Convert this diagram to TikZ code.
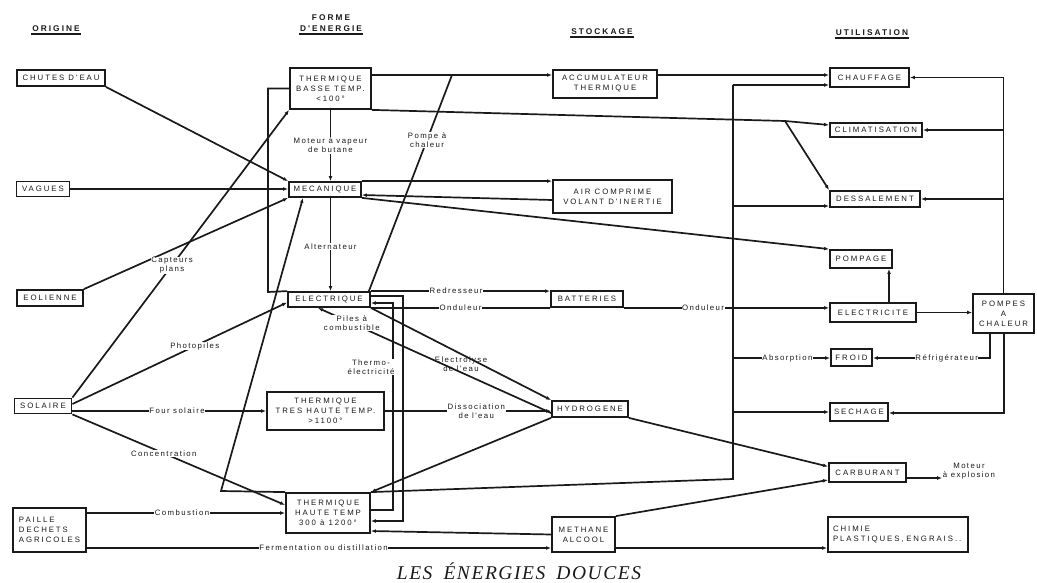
\documentclass[tikz,border=0pt]{standalone}
\usepackage{fontspec}
\setmainfont{Liberation Sans}
\newfontfamily\boxf[LetterSpace=25]{Liberation Sans}
\newfontfamily\headf[LetterSpace=25]{Liberation Sans}
\newfontfamily\lblf[LetterSpace=18]{Liberation Sans}
\newfontfamily\titlef[LetterSpace=8]{Liberation Serif}
\usetikzlibrary{arrows.meta,calc}
\definecolor{ink}{HTML}{1A1A1A}
\begin{document}
\begin{tikzpicture}[x=1pt,y=-1pt,
  box/.style={draw=ink, fill=white, line width=1.8pt, inner sep=1pt, align=center, text=ink, font=\boxf\fontsize{7.8}{10}\selectfont},
  head/.style={font=\headf\bfseries\fontsize{8.3}{11}\selectfont, align=center, inner sep=1pt, text=ink},
  lbl/.style={fill=white, inner sep=0.6pt, align=center, text=ink, font=\lblf\fontsize{7.8}{9}\selectfont},
  conn/.style={draw=ink, line width=1.7pt},
  arr/.style={conn, -{Latex[length=5pt,width=3.8pt]}},
  uline/.style={draw=ink, line width=1.8pt}
]
\fill[white] (0,0) rectangle (1037,583);
\useasboundingbox (0,0) rectangle (1037,583);

% headers
\node[head] (hOrig) at (56,29) {ORIGINE};
\node[head] (hForme) at (331,23) {FORME\\D'ENERGIE};
\node[head] (hStock) at (602,32) {STOCKAGE};
\node[head] (hUtil) at (872,33) {UTILISATION};
\draw[uline] ([yshift=-1]hOrig.south west) -- ([yshift=-1]hOrig.south east);
\draw[uline] ([yshift=-1]hForme.south west) -- ([yshift=-1]hForme.south east);
\draw[uline] ([yshift=-1]hStock.south west) -- ([yshift=-1]hStock.south east);
\draw[uline] ([yshift=-1]hUtil.south west) -- ([yshift=-1]hUtil.south east);

% origine
\node[box, minimum width=88, minimum height=16] (chutes) at (61,78) {CHUTES D'EAU};
\node[box, minimum width=53, minimum height=15] (vagues) at (43,189) {VAGUES};
\node[box, minimum width=66, minimum height=16] (eol) at (50,298) {EOLIENNE};
\node[box, minimum width=57, minimum height=15] (sol) at (43,406) {SOLAIRE};
\node[box, minimum width=73, minimum height=44, align=left] (paille) at (49.5,530) {PAILLE\\DECHETS\\AGRICOLES};

% forme d'energie
\node[box, minimum width=81, minimum height=41] (thb) at (330.5,88.5) {THERMIQUE\\BASSE TEMP.\\<100°};
\node[box, minimum width=72, minimum height=15] (mec) at (325,189.5) {MECANIQUE};
\node[box, minimum width=82, minimum height=15] (elec) at (329,299.5) {ELECTRIQUE};
\node[box, minimum width=117, minimum height=38] (thth) at (325.5,411) {THERMIQUE\\TRES HAUTE TEMP.\\>1100°};
\node[box, minimum width=84, minimum height=40] (thh) at (328,513) {THERMIQUE\\HAUTE TEMP\\300 à 1200°};

% stockage
\node[box, minimum width=104, minimum height=28] (accu) at (605,84) {ACCUMULATEUR\\THERMIQUE};
\node[box, minimum width=119, minimum height=33] (air) at (612.5,196.5) {AIR COMPRIME\\VOLANT D'INERTIE};
\node[box, minimum width=72, minimum height=16] (batt) at (587,299) {BATTERIES};
\node[box, minimum width=76, minimum height=16] (hyd) at (590,409) {HYDROGENE};
\node[box, minimum width=63, minimum height=35] (meth) at (583.5,534.5) {METHANE\\ALCOOL};

% utilisation
\node[box, minimum width=79, minimum height=19] (chauf) at (869.5,77.5) {CHAUFFAGE};
\node[box, minimum width=92, minimum height=14] (clim) at (876,130) {CLIMATISATION};
\node[box, minimum width=90, minimum height=16] (dess) at (875,199) {DESSALEMENT};
\node[box, minimum width=62, minimum height=18] (pomp) at (861,259) {POMPAGE};
\node[box, minimum width=86, minimum height=19] (elct) at (873,312.5) {ELECTRICITE};
\node[box, minimum width=41, minimum height=17] (froid) at (851.5,357.5) {FROID};
\node[box, minimum width=58, minimum height=18] (sech) at (859,412) {SECHAGE};
\node[box, minimum width=61, minimum height=39] (pac) at (1003.5,313.5) {POMPES\\A\\CHALEUR};
\node[box, minimum width=77, minimum height=19] (carb) at (867.5,472.5) {CARBURANT};
\node[box, text width=130, inner xsep=5pt, minimum height=35, align=left] (chimie) at (898,534.5) {CHIMIE\\PLASTIQUES, ENGRAIS..};
\node[lbl] (motlbl) at (969,471) {Moteur\\à explosion};

% title
\node[text=ink, font=\titlef\itshape\fontsize{19.5}{22}\selectfont] (title) at (519,571) {LES\hspace{11pt}ÉNERGIES\hspace{11pt}DOUCES};

% helper coordinates
\coordinate (yA) at (0,75);
\coordinate (fy) at (0,548);
\coordinate (busT) at (733,85);
\coordinate (busB) at (733,479);
\coordinate (bD) at (733,206);
\coordinate (bF) at (733,358);
\coordinate (bS) at (733,412);
\coordinate (pF) at (990,358);
\coordinate (pS) at (1004,413);
\coordinate (cK) at (785,121);
\coordinate (pcA) at (452,75);
\coordinate (loopA) at (268,88.5);
\coordinate (loopB) at (268,292);
\coordinate (tA) at (403,296);
\coordinate (tB) at (403,521);
\coordinate (tC) at (393,510);
\coordinate (tD) at (393,303);
\coordinate (hM) at (221,491);

% origine -> forme
\draw[arr] (chutes.south east) -- (mec.north west);
\draw[arr] (vagues.east) -- (vagues.east -| mec.west);
\draw[arr] (eol.north east) -- (mec.south west);
\draw[arr] (sol.north east) -- node[lbl, pos=0.46]{Capteurs\\plans} (thb.south west);
\draw[arr] ([yshift=2]sol.east) -- node[lbl, pos=0.57]{Photopiles} ([yshift=-3]elec.west);
\draw[arr] (sol.east |- thth.west) -- node[lbl, pos=0.54]{Four solaire} (thth.west);
\draw[arr] (sol.south east) -- node[lbl, pos=0.43]{Concentration} ([yshift=8]thh.west);
\draw[arr] (paille.east |- thh.west) -- node[lbl, pos=0.48]{Combustion} (thh.west);
\draw[arr] (paille.east |- fy) -- node[lbl, pos=0.51]{Fermentation ou distillation} (meth.west |- fy);

% inside forme d'energie
\draw[arr] (thb.south) -- node[lbl, pos=0.5]{Moteur à vapeur\\de butane} (thb.south |- mec.north);
\draw[arr] (thb.south |- mec.south) -- node[lbl, pos=0.52]{Alternateur} (thb.south |- elec.north);
\draw[conn] (thb.west) -- (loopA) -- (loopB) -- (elec.north west);
\draw[arr] (thh.north west) -- (hM) -- ([xshift=-22]mec.south);
\draw[arr] (elec.east |- tA) -- (tA) -- (tB) -- (tB -| thh.east);
\draw[arr] (tC -| thh.east) -- (tC) -- node[lbl, pos=0.69, xshift=-22]{Thermo-\\électricité} (tD) -- (tD -| elec.east);
\draw[conn] ([xshift=-2]elec.north east) -- node[lbl, pos=0.7]{Pompe à\\chaleur} (pcA);

% forme -> stockage
\draw[arr] (thb.east |- yA) -- (accu.west |- yA);
\draw[arr] (mec.north east) -- (mec.north east -| air.west);
\draw[arr] ([yshift=-3.5]air.west) -- ([yshift=-5.5]mec.east);
\draw[arr] (elec.north east) -- node[lbl, pos=0.475]{Redresseur} (elec.north east -| batt.west);
\draw[conn] (batt.south west) -- node[lbl, pos=0.5]{Onduleur} (batt.south west -| elec.east);
\draw[arr] (elec.south east) -- node[lbl, fill=none, pos=0.5, yshift=-10]{Electrolyse\\de l'eau} (hyd.north west);
\draw[arr] ([yshift=-4]hyd.west) -- node[lbl, pos=0.855]{Piles à\\combustible} ([xshift=-11]elec.south);
\draw[arr] (thth.east) -- node[lbl, pos=0.55]{Dissociation\\de l'eau} (thth.east -| hyd.west);
\draw[arr] (hyd.south west) -- (thh.north east);
\draw[arr] (meth.west) -- ([yshift=-18]thh.east);

% stockage -> utilisation
\draw[arr] (accu.east |- yA) -- (chauf.west |- yA);
\draw[conn] (thb.south east) -- (cK);
\draw[arr] (cK) -- ([yshift=5]clim.west);
\draw[arr] (cK) -- (dess.north west);
\draw[arr] (mec.south east) -- (pomp.north west);
\draw[arr] (batt.south east) -- node[lbl, pos=0.386]{Onduleur} (batt.south east -| elct.west);
\draw[arr] (hyd.south east) -- ([yshift=6]carb.west);
\draw[arr] (meth.north east) -- ([yshift=-7.5]carb.west);
\draw[arr] (meth.east |- fy) -- (chimie.west |- fy);

% heat bus
\draw[conn] (thh.north east) -- (busB) -- (busT);
\draw[arr] (busT) -- (busT -| chauf.west);
\draw[arr] (bD) -- (bD -| dess.west);
\draw[arr] (bF) -- node[lbl, pos=0.56]{Absorption} (bF -| froid.west);
\draw[arr] (bS) -- (bS -| sech.west);

% utilisation internals
\draw[arr] ([xshift=16]elct.north) -- ([xshift=16]elct.north |- pomp.south);
\draw[arr] (elct.east) -- (elct.east -| pac.west);
\draw[conn] (pac.north) -- (pac.north |- chauf.east);
\draw[arr] (pac.north |- chauf.east) -- (chauf.east);
\draw[arr] (pac.north |- clim.east) -- (clim.east);
\draw[arr] (pac.north |- dess.east) -- (dess.east);
\draw[arr] (pac.south -| pF) -- (pF) -- node[lbl, pos=0.37]{Réfrigérateur} (pF -| froid.east);
\draw[arr] (pac.south -| pS) -- (pS) -- (pS -| sech.east);
\draw[arr] ([yshift=-5.5]carb.east) -- ([yshift=-7]motlbl.west);
\end{tikzpicture}
\end{document}
